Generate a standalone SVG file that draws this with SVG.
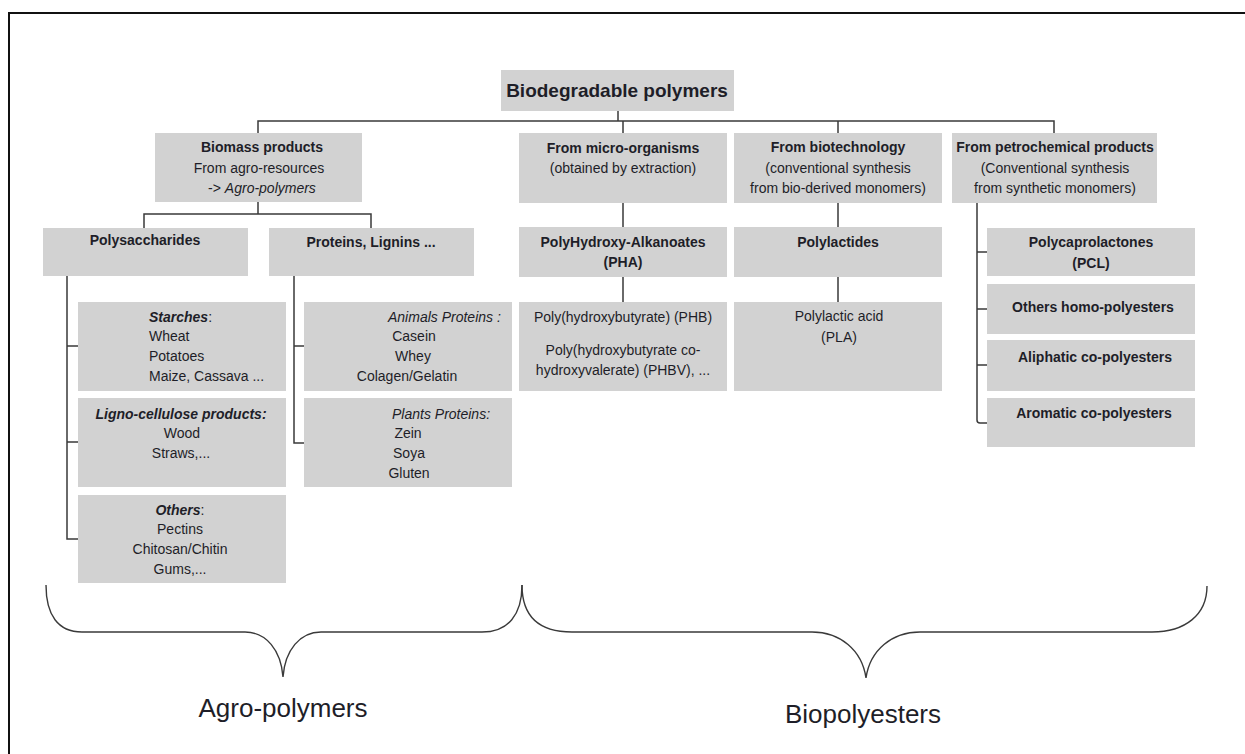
<svg xmlns="http://www.w3.org/2000/svg" width="1245" height="754" viewBox="0 0 1245 754">
<style>
.box{fill:#d2d2d2;}
.t{font-family:"Liberation Sans",Arial,sans-serif;font-size:14px;fill:#1e1e28;text-anchor:middle;}
.l{text-anchor:start;}
.b{font-weight:bold;}
.i{font-style:italic;}
.title{font-size:19px;font-weight:bold;}
.big{font-size:26px;}
.ln{fill:none;stroke:#3a3a3a;stroke-width:1.5;}
.br{fill:none;stroke:#3a3a3a;stroke-width:1.4;}
</style>
<rect width="1245" height="754" fill="#ffffff"/>
<path d="M9,760 V13 H1250" fill="none" stroke="#111" stroke-width="2"/>

<g id="connectors">
  <path class="ln" d="M618,111 V121 M258,133 V121 H1054 V133 M623,121 V133 M838,121 V133"/>
  <path class="ln" d="M258,202 V214 M144,228 V214 H371 V228"/>
  <path class="ln" d="M623,203 V227 M623,277 V302 M838,203 V227 M838,277 V302"/>
  <path class="ln" d="M67,276 V539 H78 M67,346 H78 M67,442 H78"/>
  <path class="ln" d="M294,276 V443 H304 M294,346 H304"/>
  <path class="ln" d="M977,203 V420 Q977,423 980,423 H987 M977,252 H987 M977,309 H987 M977,365 H987"/>
</g>

<g id="n-root"><rect class="box" x="501" y="70" width="233" height="41"/><text class="t title" x="617" y="97">Biodegradable polymers</text></g>

<g id="n-biomass"><rect class="box" x="155" y="133" width="207" height="69"/>
<text class="t b" x="262" y="152">Biomass products</text>
<text class="t" x="259" y="173">From agro-resources</text>
<text class="t" x="262" y="193">-&gt; <tspan class="i">Agro-polymers</tspan></text></g>

<g id="n-micro"><rect class="box" x="519" y="133" width="208" height="70"/>
<text class="t b" x="623" y="153">From micro-organisms</text>
<text class="t" x="623" y="173">(obtained by extraction)</text></g>

<g id="n-biotech"><rect class="box" x="734" y="133" width="208" height="70"/>
<text class="t b" x="838" y="152">From biotechnology</text>
<text class="t" x="838" y="173">(conventional synthesis</text>
<text class="t" x="838" y="193">from bio-derived monomers)</text></g>

<g id="n-petro"><rect class="box" x="952" y="133" width="205" height="70"/>
<text class="t b" x="1055" y="152">From petrochemical products</text>
<text class="t" x="1055" y="173">(Conventional synthesis</text>
<text class="t" x="1055" y="193">from synthetic monomers)</text></g>

<g id="n-polysacch"><rect class="box" x="43" y="228" width="205" height="48"/><text class="t b" x="145" y="245">Polysaccharides</text></g>
<g id="n-proteins"><rect class="box" x="269" y="228" width="205" height="48"/><text class="t b" x="371" y="247">Proteins, Lignins ...</text></g>

<g id="n-pha"><rect class="box" x="519" y="227" width="208" height="50"/>
<text class="t b" x="623" y="247">PolyHydroxy-Alkanoates</text>
<text class="t b" x="623" y="267">(PHA)</text></g>

<g id="n-polylactides"><rect class="box" x="734" y="227" width="208" height="50"/><text class="t b" x="838" y="247">Polylactides</text></g>

<g id="n-pcl"><rect class="box" x="987" y="228" width="208" height="48"/>
<text class="t b" x="1091" y="247">Polycaprolactones</text>
<text class="t b" x="1091" y="268">(PCL)</text></g>
<g id="n-homo"><rect class="box" x="987" y="284" width="208" height="50"/><text class="t b" x="1093" y="312">Others homo-polyesters</text></g>
<g id="n-aliphatic"><rect class="box" x="987" y="340" width="208" height="51"/><text class="t b" x="1095" y="362">Aliphatic co-polyesters</text></g>
<g id="n-aromatic"><rect class="box" x="987" y="398" width="208" height="49"/><text class="t b" x="1094" y="418">Aromatic co-polyesters</text></g>

<g id="n-starches"><rect class="box" x="78" y="302" width="208" height="89"/>
<text class="t l b i" x="149" y="322">Starches<tspan font-weight="normal" font-style="normal">:</tspan></text>
<text class="t l" x="149" y="341">Wheat</text>
<text class="t l" x="149" y="361">Potatoes</text>
<text class="t l" x="149" y="381">Maize, Cassava ...</text></g>

<g id="n-ligno"><rect class="box" x="78" y="398" width="208" height="89"/>
<text class="t b i" x="181" y="419">Ligno-cellulose products:</text>
<text class="t" x="182" y="438">Wood</text>
<text class="t" x="181" y="458">Straws,...</text></g>

<g id="n-others"><rect class="box" x="78" y="495" width="208" height="88"/>
<text class="t b i" x="180" y="515">Others<tspan font-weight="normal" font-style="normal">:</tspan></text>
<text class="t" x="180" y="534">Pectins</text>
<text class="t" x="180" y="554">Chitosan/Chitin</text>
<text class="t" x="180" y="574">Gums,...</text></g>

<g id="n-animal"><rect class="box" x="304" y="302" width="208" height="89"/>
<text class="t l i" x="388" y="322">Animals Proteins :</text>
<text class="t" x="414" y="341">Casein</text>
<text class="t" x="413" y="361">Whey</text>
<text class="t" x="407" y="381">Colagen/Gelatin</text></g>

<g id="n-plants"><rect class="box" x="304" y="398" width="208" height="89"/>
<text class="t l i" x="392" y="419">Plants Proteins:</text>
<text class="t" x="408" y="438">Zein</text>
<text class="t" x="409" y="458">Soya</text>
<text class="t" x="409" y="478">Gluten</text></g>

<g id="n-phb"><rect class="box" x="519" y="302" width="208" height="89"/>
<text class="t" x="623" y="322">Poly(hydroxybutyrate) (PHB)</text>
<text class="t" x="623" y="355">Poly(hydroxybutyrate co-</text>
<text class="t" x="623" y="375">hydroxyvalerate) (PHBV), ...</text></g>

<g id="n-pla"><rect class="box" x="734" y="302" width="208" height="89"/>
<text class="t" x="839" y="321">Polylactic acid</text>
<text class="t" x="839" y="342">(PLA)</text></g>

<g id="braces">
  <path class="br" d="M46,585 C46,615 58,632 82,632 H245 C266,632 281,650 283,677 C285,650 300,632 321,632 H482 C508,632 522,615 522,585"/>
  <path class="br" d="M522,585 C522,615 538,632 572,632 H812 C840,632 862,650 866,678 C870,650 892,632 920,632 H1152 C1185,632 1207,615 1207,586"/>
  <text class="t big" x="283" y="717">Agro-polymers</text>
  <text class="t big" x="863" y="723">Biopolyesters</text>
</g>
</svg>
